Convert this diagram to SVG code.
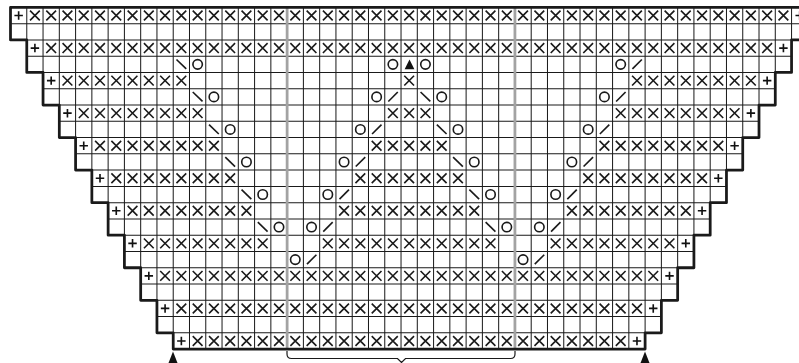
<svg xmlns="http://www.w3.org/2000/svg" width="799" height="363" viewBox="0 0 799 363">
<style>
.thin{fill:none;stroke:#1a1a1a;stroke-width:.062}
.grey{fill:none;stroke:#a3a3a3;stroke-width:.17}
.thick{fill:none;stroke:#1a1a1a;stroke-width:.17;stroke-linejoin:round}
.s{fill:none;stroke:#1a1a1a;stroke-width:.1}
.p{fill:none;stroke:#111;stroke-width:.1}
.t{fill:#111}
.b{fill:none;stroke:#1a1a1a;stroke-width:1.2}
</style>
<defs>
<path id="x1" class="s" d="M.2 .2L.8 .8M.8 .2L.2 .8"/>
<g id="x2"><use href="#x1"/><use href="#x1" x="1"/></g>
<g id="x4"><use href="#x2"/><use href="#x2" x="2"/></g>
<g id="x8"><use href="#x4"/><use href="#x4" x="4"/></g>
<g id="x16"><use href="#x8"/><use href="#x8" x="8"/></g>
<g id="x32"><use href="#x16"/><use href="#x16" x="16"/></g>
<path id="k" class="p" d="M.24 .5H.76M.5 .24V.76"/>
<circle id="o" class="s" cx=".5" cy=".5" r=".29"/>
<path id="l" class="s" d="M.2 .2L.8 .78"/>
<path id="r" class="s" d="M.8 .2L.22 .78"/>
<path id="a" class="t" d="M.52 .2L.82 .8H.22Z"/>
</defs>
<g id="chart" transform="translate(10.5 7.4) scale(16.272)">
<path id="grid-h" class="thin" d="M0 1H49M1 2H48M1 3H48M2 4H47M2 5H47M3 6H46M3 7H46M4 8H45M4 9H45M5 10H44M5 11H44M6 12H43M6 13H43M7 14H42M7 15H42M8 16H41M8 17H41M9 18H40M9 19H40M10 20H39"/>
<path id="grid-v" class="thin" d="M1 0V2M2 0V4M3 0V6M4 0V8M5 0V10M6 0V12M7 0V14M8 0V16M9 0V18M10 0V20M11 0V21M12 0V21M13 0V21M14 0V21M15 0V21M16 0V21M17 0V21M18 0V21M19 0V21M20 0V21M21 0V21M22 0V21M23 0V21M24 0V21M25 0V21M26 0V21M27 0V21M28 0V21M29 0V21M30 0V21M31 0V21M32 0V21M33 0V21M34 0V21M35 0V21M36 0V21M37 0V21M38 0V21M39 0V20M40 0V18M41 0V16M42 0V14M43 0V12M44 0V10M45 0V8M46 0V6M47 0V4M48 0V2"/>
<path id="repeat-lines" class="grey" d="M17 0V21M31 0V21"/>
<g id="row-0"><use href="#k" x="0" y="0"/><use href="#x32" x="1" y="0"/><use href="#x8" x="33" y="0"/><use href="#x4" x="41" y="0"/><use href="#x2" x="45" y="0"/><use href="#x1" x="47" y="0"/><use href="#k" x="48" y="0"/></g>
<g id="row-2"><use href="#k" x="1" y="2"/><use href="#x32" x="2" y="2"/><use href="#x8" x="34" y="2"/><use href="#x4" x="42" y="2"/><use href="#x1" x="46" y="2"/><use href="#k" x="47" y="2"/></g>
<g id="row-3"><use href="#l" x="10" y="3"/><use href="#o" x="11" y="3"/><use href="#o" x="23" y="3"/><use href="#a" x="24" y="3"/><use href="#o" x="25" y="3"/><use href="#o" x="37" y="3"/><use href="#r" x="38" y="3"/></g>
<g id="row-4"><use href="#k" x="2" y="4"/><use href="#x8" x="3" y="4"/><use href="#x1" x="24" y="4"/><use href="#x8" x="38" y="4"/><use href="#k" x="46" y="4"/></g>
<g id="row-5"><use href="#l" x="11" y="5"/><use href="#o" x="12" y="5"/><use href="#o" x="22" y="5"/><use href="#r" x="23" y="5"/><use href="#l" x="25" y="5"/><use href="#o" x="26" y="5"/><use href="#o" x="36" y="5"/><use href="#r" x="37" y="5"/></g>
<g id="row-6"><use href="#k" x="3" y="6"/><use href="#x8" x="4" y="6"/><use href="#x2" x="23" y="6"/><use href="#x1" x="25" y="6"/><use href="#x8" x="37" y="6"/><use href="#k" x="45" y="6"/></g>
<g id="row-7"><use href="#l" x="12" y="7"/><use href="#o" x="13" y="7"/><use href="#o" x="21" y="7"/><use href="#r" x="22" y="7"/><use href="#l" x="26" y="7"/><use href="#o" x="27" y="7"/><use href="#o" x="35" y="7"/><use href="#r" x="36" y="7"/></g>
<g id="row-8"><use href="#k" x="4" y="8"/><use href="#x8" x="5" y="8"/><use href="#x4" x="22" y="8"/><use href="#x1" x="26" y="8"/><use href="#x8" x="36" y="8"/><use href="#k" x="44" y="8"/></g>
<g id="row-9"><use href="#l" x="13" y="9"/><use href="#o" x="14" y="9"/><use href="#o" x="20" y="9"/><use href="#r" x="21" y="9"/><use href="#l" x="27" y="9"/><use href="#o" x="28" y="9"/><use href="#o" x="34" y="9"/><use href="#r" x="35" y="9"/></g>
<g id="row-10"><use href="#k" x="5" y="10"/><use href="#x8" x="6" y="10"/><use href="#x4" x="21" y="10"/><use href="#x2" x="25" y="10"/><use href="#x1" x="27" y="10"/><use href="#x8" x="35" y="10"/><use href="#k" x="43" y="10"/></g>
<g id="row-11"><use href="#l" x="14" y="11"/><use href="#o" x="15" y="11"/><use href="#o" x="19" y="11"/><use href="#r" x="20" y="11"/><use href="#l" x="28" y="11"/><use href="#o" x="29" y="11"/><use href="#o" x="33" y="11"/><use href="#r" x="34" y="11"/></g>
<g id="row-12"><use href="#k" x="6" y="12"/><use href="#x8" x="7" y="12"/><use href="#x8" x="20" y="12"/><use href="#x1" x="28" y="12"/><use href="#x8" x="34" y="12"/><use href="#k" x="42" y="12"/></g>
<g id="row-13"><use href="#l" x="15" y="13"/><use href="#o" x="16" y="13"/><use href="#o" x="18" y="13"/><use href="#r" x="19" y="13"/><use href="#l" x="29" y="13"/><use href="#o" x="30" y="13"/><use href="#o" x="32" y="13"/><use href="#r" x="33" y="13"/></g>
<g id="row-14"><use href="#k" x="7" y="14"/><use href="#x8" x="8" y="14"/><use href="#x8" x="19" y="14"/><use href="#x2" x="27" y="14"/><use href="#x1" x="29" y="14"/><use href="#x8" x="33" y="14"/><use href="#k" x="41" y="14"/></g>
<g id="row-15"><use href="#o" x="17" y="15"/><use href="#r" x="18" y="15"/><use href="#o" x="31" y="15"/><use href="#r" x="32" y="15"/></g>
<g id="row-16"><use href="#k" x="8" y="16"/><use href="#x16" x="9" y="16"/><use href="#x8" x="25" y="16"/><use href="#x4" x="33" y="16"/><use href="#x2" x="37" y="16"/><use href="#x1" x="39" y="16"/><use href="#k" x="40" y="16"/></g>
<g id="row-18"><use href="#k" x="9" y="18"/><use href="#x16" x="10" y="18"/><use href="#x8" x="26" y="18"/><use href="#x4" x="34" y="18"/><use href="#x1" x="38" y="18"/><use href="#k" x="39" y="18"/></g>
<g id="row-20"><use href="#k" x="10" y="20"/><use href="#x16" x="11" y="20"/><use href="#x8" x="27" y="20"/><use href="#x2" x="35" y="20"/><use href="#x1" x="37" y="20"/><use href="#k" x="38" y="20"/></g>
<path id="outline" class="thick" d="M49 0H0V2H1V4H2V6H3V8H4V10H5V12H6V14H7V16H8V18H9V20H10V21H39V20H40V18H41V16H42V14H43V12H44V10H45V8H46V6H47V4H48V2H49"/>
</g>
<path id="bracket" class="b" d="M287 351V354Q287 358.5 291.5 358.5H397.5L401.5 362.5L405.5 358.5H510.5Q515 358.5 515 354V351"/>
<path id="arrow-left" class="t" d="M173 351.5L177.5 363H168.5Z"/>
<path id="arrow-right" class="t" d="M645 351.5L649.5 363H640.5Z"/>
</svg>
